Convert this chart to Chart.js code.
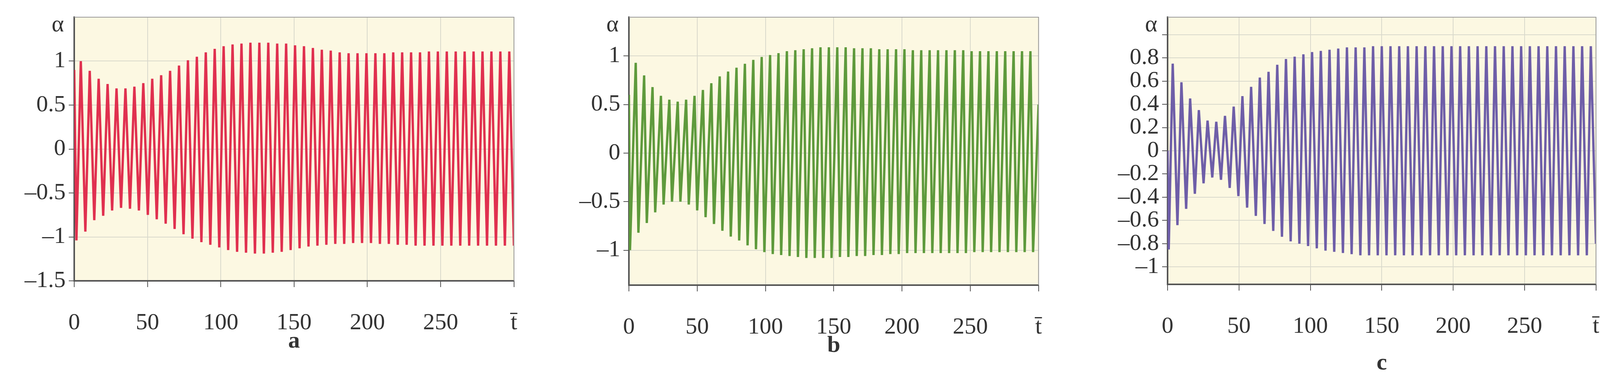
<!DOCTYPE html>
<html>
<head>
<meta charset="utf-8">
<script src="https://cdn.jsdelivr.net/npm/chart.js@4/dist/chart.umd.min.js"></script>
<style>
  body { margin: 0; background: #fff; width: 4155px; height: 978px; position: relative; overflow: hidden; }
  .box { position: absolute; top: 0; height: 978px; }
</style>
</head>
<body>
<div class="box" style="left:0;width:1380px"><canvas id="chartA"></canvas></div>
<div class="box" style="left:1400px;width:1323px"><canvas id="chartB"></canvas></div>
<div class="box" style="left:2780px;width:1370px"><canvas id="chartC"></canvas></div>
<script>
// x ticks (the last one carries the t-bar label)
const xTicks = [0, 50, 100, 150, 200, 250, 300];

// panel a (red): value at t=0, then the height of each peak and trough
const startA = 0.9;
const peaksA = [1.0, 0.89, 0.80, 0.74, 0.69, 0.69, 0.71, 0.75, 0.80, 0.84, 0.89, 0.95, 1.01, 1.05, 1.10, 1.14, 1.17, 1.19, 1.20, 1.21,
  1.21, 1.21, 1.20, 1.20, 1.18, 1.17, 1.15, 1.13, 1.12, 1.10, 1.09, 1.09, 1.09, 1.09, 1.09, 1.10, 1.10, 1.10, 1.10, 1.11,
  1.11, 1.11, 1.11, 1.11, 1.11, 1.11, 1.11, 1.11, 1.11];
const troughsA = [-1.04, -0.94, -0.81, -0.76, -0.70, -0.67, -0.68, -0.70, -0.75, -0.80, -0.85, -0.91, -0.97, -1.02, -1.06, -1.09, -1.12, -1.15, -1.17, -1.18,
  -1.19, -1.19, -1.18, -1.17, -1.15, -1.13, -1.11, -1.10, -1.09, -1.08, -1.08, -1.07, -1.07, -1.07, -1.08, -1.08, -1.09, -1.09, -1.10, -1.10,
  -1.10, -1.10, -1.10, -1.10, -1.10, -1.10, -1.10, -1.10, -1.10];
const endA = -1.1;
const yTicksA = [-1.5, -1, -0.5, 0, 0.5, 1];

// panel b (green)
const startB = 0.6;
const peaksB = [0.93, 0.80, 0.68, 0.59, 0.55, 0.53, 0.55, 0.59, 0.65, 0.72, 0.79, 0.84, 0.88, 0.92, 0.96, 0.99, 1.01, 1.03, 1.05, 1.06,
  1.07, 1.08, 1.09, 1.09, 1.09, 1.09, 1.08, 1.08, 1.08, 1.07, 1.07, 1.07, 1.07, 1.06, 1.06, 1.06, 1.06, 1.06, 1.06, 1.06,
  1.05, 1.05, 1.05, 1.05, 1.05, 1.05, 1.05, 1.05];
const troughsB = [-1.0, -0.82, -0.72, -0.61, -0.53, -0.50, -0.50, -0.53, -0.59, -0.66, -0.73, -0.80, -0.86, -0.90, -0.95, -0.99, -1.02, -1.04, -1.05, -1.06,
  -1.07, -1.08, -1.08, -1.08, -1.08, -1.07, -1.07, -1.06, -1.06, -1.05, -1.05, -1.04, -1.04, -1.03, -1.03, -1.03, -1.03, -1.03, -1.03, -1.03,
  -1.03, -1.02, -1.02, -1.02, -1.02, -1.02, -1.02, -1.02, -1.02];
const endB = 0.5;
const yTicksB = [-1, -0.5, 0, 0.5, 1];

// panel c (purple)
const startC = 0.0;
const peaksC = [0.75, 0.59, 0.45, 0.35, 0.26, 0.25, 0.30, 0.38, 0.47, 0.55, 0.63, 0.68, 0.74, 0.79, 0.81, 0.83, 0.85, 0.86, 0.87, 0.88,
  0.89, 0.89, 0.89, 0.90, 0.90, 0.90, 0.90, 0.90, 0.90, 0.90, 0.90, 0.90, 0.90, 0.90, 0.90, 0.90, 0.90, 0.90, 0.90, 0.90,
  0.90, 0.90, 0.90, 0.90, 0.90, 0.90, 0.90, 0.90, 0.90];
const troughsC = [-0.85, -0.64, -0.50, -0.37, -0.28, -0.23, -0.25, -0.32, -0.39, -0.49, -0.56, -0.63, -0.69, -0.74, -0.78, -0.80, -0.82, -0.84, -0.86, -0.87,
  -0.88, -0.89, -0.90, -0.90, -0.90, -0.90, -0.90, -0.90, -0.90, -0.90, -0.90, -0.90, -0.90, -0.90, -0.90, -0.90, -0.90, -0.90, -0.90, -0.90,
  -0.90, -0.90, -0.90, -0.90, -0.90, -0.90, -0.90, -0.90, -0.90];
const endC = -0.8;
const yTicksC = [-1, -0.8, -0.6, -0.4, -0.2, 0, 0.2, 0.4, 0.6, 0.8, 1];

const FONT = "'Liberation Serif', 'DejaVu Serif', serif";
const TXT = "#333";

// plot-area bottom edge for each panel
const chartBottoms = { chartA: 719, chartB: 730, chartC: 728 };

// zigzag: extrema at evenly spaced times
function buildPoints(start, peaks, troughs, firstPeak, firstTrough, period, end) {
  const pts = [{ x: 0, y: start }];
  peaks.forEach(function (v, i) { pts.push({ x: firstPeak + i * period, y: v }); });
  troughs.forEach(function (v, i) { pts.push({ x: firstTrough + i * period, y: v }); });
  const inside = pts.filter(function (p) { return p.x < 300; });
  inside.sort(function (a, b) { return a.x - b.x; });
  inside.push({ x: 300, y: end });
  return inside;
}

function fmt(v) {
  const r = Math.round(v * 10) / 10;
  if (r === 0) return "0";
  return r < 0 ? "\u2013" + Math.abs(r) : String(r);
}

const decor = {
  id: "decor",
  beforeDraw: function (chart) {
    const a = chart.chartArea, c = chart.ctx;
    c.save();
    c.fillStyle = "#fcf8e2";
    c.fillRect(a.left, a.top, a.right - a.left, a.bottom - a.top);
    c.restore();
  },
  afterDraw: function (chart) {
    const a = chart.chartArea, c = chart.ctx, o = chart.options.plugins.decor;
    c.save();
    c.strokeStyle = "#9a9a9a";
    c.lineWidth = 2;
    c.beginPath();
    c.moveTo(a.left, a.top);
    c.lineTo(a.right, a.top);
    c.lineTo(a.right, a.bottom);
    c.stroke();
    c.fillStyle = TXT;
    c.textAlign = "center";
    c.textBaseline = "middle";
    c.font = "60px " + FONT;
    c.fillText("\u03b1", a.left - 42, a.top + 20);
    c.font = "bold 60px " + FONT;
    c.fillText(o.letter, (a.left + a.right) / 2, o.letterY);
    c.restore();
  }
};

function makeChart(id, points, color, yMin, yMax, yTicks, yWidth, padTop, padRight, letter, letterY) {
  return new Chart(document.getElementById(id), {
    type: "line",
    data: {
      datasets: [{
        data: points,
        borderColor: color,
        borderWidth: 6,
        pointRadius: 0,
        tension: 0,
        fill: false
      }]
    },
    options: {
      responsive: true,
      maintainAspectRatio: false,
      animation: false,
      layout: { padding: { top: padTop, right: padRight, bottom: 0, left: 0 } },
      plugins: { legend: { display: false }, tooltip: { enabled: false }, decor: { letter: letter, letterY: letterY } },
      scales: {
        x: {
          type: "linear",
          min: 0,
          max: 300,
          afterBuildTicks: function (s) { s.ticks = xTicks.map(function (v) { return { value: v }; }); },
          afterFit: function (s) { s.height = 978 - chartBottoms[id]; },
          ticks: {
            color: TXT,
            font: { family: FONT, size: 60 },
            padding: 56,
            maxRotation: 0,
            autoSkip: false,
            callback: function (v) { return v === 300 ? "t\u0304" : String(v); }
          },
          grid: { color: "#d9d9cc", lineWidth: 2, tickLength: 16, tickColor: "#555" },
          border: { color: "#555", width: 4 }
        },
        y: {
          min: yMin,
          max: yMax,
          afterBuildTicks: function (s) { s.ticks = yTicks.map(function (v) { return { value: v }; }); },
          afterFit: function (s) { s.width = yWidth; },
          ticks: {
            color: TXT,
            font: { family: FONT, size: 60 },
            padding: 8,
            autoSkip: false,
            callback: function (v) { return (v >= 1 && yMax < 1.3) ? "" : fmt(v); }
          },
          grid: { color: "#d9d9cc", lineWidth: 2, tickLength: 14, tickColor: "#555" },
          border: { color: "#555", width: 4 }
        }
      }
    },
    plugins: [decor]
  });
}

makeChart("chartA", buildPoints(startA, peaksA, troughsA, 4.5, 1.5, 6.09, endA), "#e0304f", -1.5, 1.5, yTicksA, 190, 19, 20, "a", 874);
makeChart("chartB", buildPoints(startB, peaksB, troughsB, 5.0, 0.8, 6.15, endB), "#5e9a3c", -1.36, 1.4, yTicksB, 210, 28, 20, "b", 885);
makeChart("chartC", buildPoints(startC, peaksC, troughsC, 3.6, 0.8, 6.1, endC), "#6e5ea8", -1.15, 1.15, yTicksC, 209, 26, 12, "c", 930);
</script>
</body>
</html>
